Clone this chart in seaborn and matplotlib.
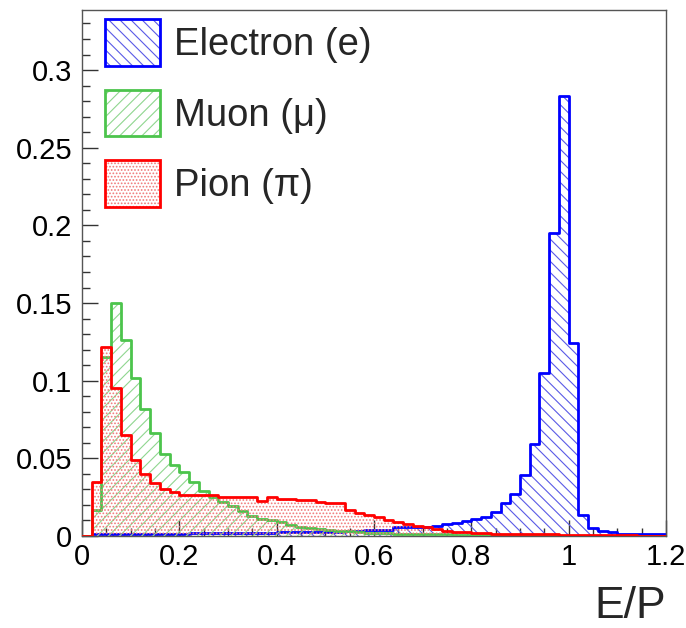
import numpy as np
import pandas as pd
import matplotlib
matplotlib.use("Agg")
import matplotlib.pyplot as plt
import seaborn as sns
from matplotlib.patches import Patch
from matplotlib.ticker import MultipleLocator, FuncFormatter

# E/P binning: 60 bins of width 0.02 between 0 and 1.2
bin_width = 0.02
bin_range = (0.0, 1.2)
bin_edges = np.round(np.arange(bin_range[0], bin_range[1] + 1e-6, bin_width), 2)

# normalised fraction of tracks per bin
electron = [0, 0.001, 0.0015, 0.0015, 0.0015, 0.0015, 0.0015, 0.0015, 0.0015, 0.0015,
            0.0015, 0.002, 0.002, 0.002, 0.002, 0.002, 0.002, 0.002, 0.002, 0.002,
            0.0025, 0.0025, 0.0025, 0.0025, 0.0025, 0.0025, 0.0025, 0.003, 0.003, 0.004,
            0.004, 0.004, 0.006, 0.006, 0.006, 0.006, 0.0065, 0.0075, 0.0085, 0.0095,
            0.011, 0.0125, 0.0157, 0.021, 0.027, 0.0395, 0.059, 0.1047, 0.195, 0.283,
            0.124, 0.0135, 0.005, 0.0034, 0.0024, 0.0015, 0.0012, 0.001, 0.001, 0.001]
muon = [0, 0.017, 0.115, 0.150, 0.126, 0.102, 0.082, 0.066, 0.053, 0.046,
        0.041, 0.035, 0.029, 0.025, 0.022, 0.019, 0.016, 0.013, 0.011, 0.010,
        0.009, 0.007, 0.006, 0.005, 0.0045, 0.004, 0.0035, 0.003, 0.0025, 0.0022,
        0.002, 0.0018, 0.0016, 0.0015, 0.0013, 0.0012, 0.001, 0.001, 0.0008, 0.0007,
        0.0006, 0.0005, 0.0004, 0.0003, 0.0002, 0.0002, 0.0001, 0.0001, 0.0001, 0.0001,
        0, 0, 0, 0, 0, 0, 0, 0, 0, 0]
pion = [0, 0.035, 0.122, 0.095, 0.065, 0.049, 0.040, 0.034, 0.030, 0.0285,
        0.0264, 0.0264, 0.0264, 0.0264, 0.0253, 0.0253, 0.0253, 0.0253, 0.0227, 0.025,
        0.024, 0.024, 0.023, 0.023, 0.022, 0.021, 0.021, 0.017, 0.015, 0.0135,
        0.012, 0.0103, 0.009, 0.0075, 0.0065, 0.0056, 0.0045, 0.0035, 0.0028, 0.0023,
        0.002, 0.0018, 0.0016, 0.0015, 0.0013, 0.0012, 0.0011, 0.001, 0.001, 0.0009,
        0.0008, 0.0007, 0.0006, 0.0005, 0.0005, 0.0004, 0.0004, 0.0003, 0.0003, 0.0003]

particles = ["Electron (e)", "Muon (\u03bc)", "Pion (\u03c0)"]

sns.set_style("white")
plt.rcParams["font.family"] = ["Liberation Sans", "DejaVu Sans"]
plt.rcParams["hatch.linewidth"] = 0.8

centers = (bin_edges[:-1] + bin_edges[1:]) / 2
df = pd.DataFrame({
    "ep": np.tile(centers, 3),
    "frac": np.concatenate([electron, muon, pion]),
    "particle": np.repeat(particles, len(centers)),
})

styles = {
    particles[0]: dict(line="#0000ff", hcol="#5a5ae6", hatch="\\\\\\", z=2),
    particles[1]: dict(line="#4cc44c", hcol="#8fd68f", hatch="///", z=3),
    particles[2]: dict(line="#ff0000", hcol="#f07878", hatch=".....", z=4),
}

fig = plt.figure(figsize=(6.86, 6.28), dpi=100)
ax = fig.add_axes([82 / 686, 92 / 628, 584 / 686, 526.5 / 628])

handles = []
for name in particles:
    st = styles[name]
    sub = df[df["particle"] == name]
    # patterned fill under each histogram
    ax.stairs(sub["frac"].values, bin_edges, fill=True, facecolor="none",
              edgecolor=st["hcol"], hatch=st["hatch"], linewidth=0, zorder=st["z"])
    # step outline
    sns.histplot(data=sub, x="ep", weights="frac", binwidth=bin_width, binrange=bin_range,
                 element="step", fill=False, color=st["line"], linewidth=2, ax=ax,
                 zorder=st["z"] + 0.5)
    handles.append((Patch(facecolor="none", edgecolor=st["hcol"], hatch=st["hatch"], linewidth=0),
                    Patch(facecolor="none", edgecolor=st["line"], linewidth=2)))

ax.set_xlim(0, 1.2)
ax.set_ylim(0, 0.339)
ax.set_ylabel("")
ax.set_xlabel("E/P", fontsize=32, loc="right", labelpad=11)

ax.xaxis.set_major_locator(MultipleLocator(0.2))
ax.xaxis.set_minor_locator(MultipleLocator(0.05))
ax.yaxis.set_major_locator(MultipleLocator(0.05))
ax.yaxis.set_minor_locator(MultipleLocator(0.01))
fmt = FuncFormatter(lambda v, p: f"{v:g}")
ax.xaxis.set_major_formatter(fmt)
ax.yaxis.set_major_formatter(fmt)

ax.tick_params(which="both", direction="in", top=False, right=False,
               bottom=True, left=True, colors="#333333", labelcolor="black", width=1)
ax.tick_params(which="major", length=11.5, labelsize=21)
ax.tick_params(axis="y", which="major", pad=7)
ax.tick_params(axis="x", which="major", pad=5)
ax.tick_params(which="minor", length=5.8)
for sp in ax.spines.values():
    sp.set_visible(True)
    sp.set_color("#555555")
    sp.set_linewidth(1)

ax.legend(handles, particles, loc="upper left", bbox_to_anchor=(0.039, 0.982),
          fontsize=27.5, frameon=False, handlelength=1.45, handleheight=1.5,
          labelspacing=0.63, handletextpad=0.37, borderpad=0, borderaxespad=0)

fig.savefig("out.png", dpi=100)
